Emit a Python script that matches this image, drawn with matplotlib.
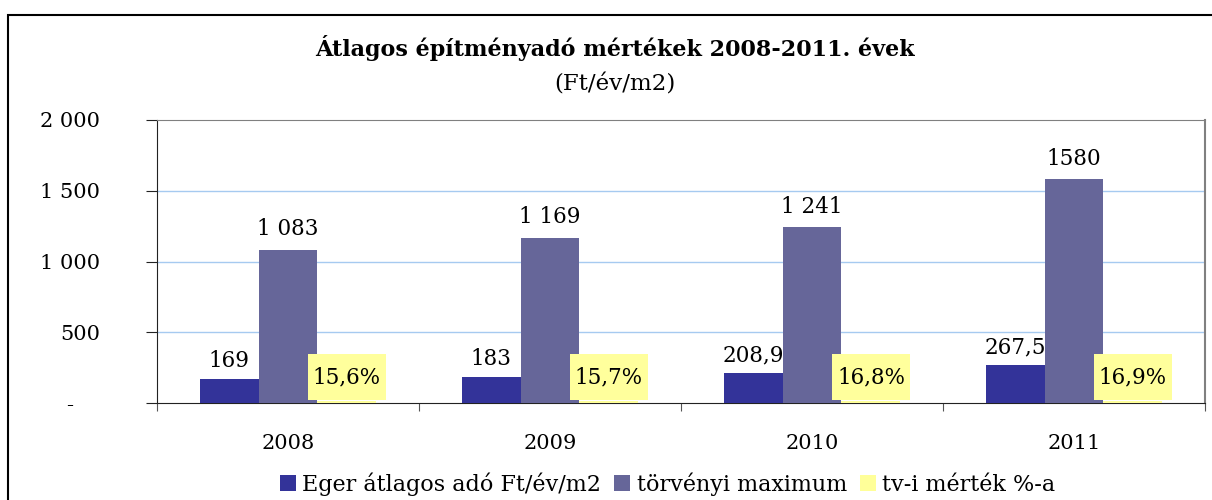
import matplotlib
matplotlib.use('Agg')
import matplotlib.pyplot as plt
import matplotlib.transforms as mtransforms
from matplotlib.patches import Rectangle
from matplotlib.path import Path
import numpy as np

plt.rcParams['font.family'] = ['DejaVu Serif']

# adatok
years = ['2008', '2009', '2010', '2011']
eger = [169, 183, 208.9, 267.5]
eger_labels = ['169', '183', '208,9', '267,5']
maximum = [1083, 1169, 1241, 1580]
maximum_labels = ['1 083', '1 169', '1 241', '1580']
arany = [15.6, 15.7, 16.8, 16.9]
arany_labels = ['15,6%', '15,7%', '16,8%', '16,9%']
yticks = [0, 500, 1000, 1500, 2000]
ytick_labels = ['-', '500', '1 000', '1 500', '2 000']
series_names = ['Eger átlagos adó Ft/év/m2', 'törvényi maximum', 'tv-i mérték %-a']

c_eger = '#333399'
c_max = '#666699'
c_arany = '#ffff99'


def wide_box(x0, y0, width, height, mutation_size):
    # Excel-szerű címkedoboz: vízszintesen kevés, függőlegesen több hely
    px = 0.25 * mutation_size
    py = 0.55 * mutation_size
    x0, y0 = x0 - px, y0 - py
    x1, y1 = x0 + width + 2 * px, y0 + height + 2 * py
    return Path([(x0, y0), (x1, y0), (x1, y1), (x0, y1), (x0, y0)], closed=True)


fig = plt.figure(figsize=(12.12, 5.0), dpi=100)
ax = fig.add_axes([157/1212, 97/500, 1048/1212, 283/500])

x = np.arange(len(years))
w = 0.225
b1 = ax.bar(x - w, eger, w, color=c_eger, label=series_names[0], zorder=3)
b2 = ax.bar(x, maximum, w, color=c_max, label=series_names[1], zorder=3)
b3 = ax.bar(x + w, arany, w, color=c_arany, label=series_names[2], zorder=3)

# címkék
for xi, v, t in zip(x - w, eger, eger_labels):
    ax.annotate(t, (xi, v), xytext=(0, 5), textcoords='offset points',
                ha='center', va='bottom', fontsize=15.5, zorder=5)
for xi, v, t in zip(x, maximum, maximum_labels):
    ax.annotate(t, (xi, v), xytext=(0, 7), textcoords='offset points',
                ha='center', va='bottom', fontsize=15.5, zorder=5)
for xi, v, t in zip(x + w, arany, arany_labels):
    ax.annotate(t, (xi, v), xytext=(0, 17), textcoords='offset points',
                ha='center', va='center', fontsize=15.5, zorder=5,
                bbox=dict(boxstyle=wide_box, fc='#ffff9c', ec='none'))

ax.set_xlim(-0.5, len(years) - 0.5)
ax.set_ylim(0, 2000)
ax.set_yticks(yticks)
ax.set_yticklabels(ytick_labels, fontsize=15)
ax.set_xticks(np.arange(len(years) + 1) - 0.5)
ax.set_xticklabels([])
ax.set_xticks(x, minor=True)
ax.set_xticklabels(years, minor=True, fontsize=15)
ax.tick_params(axis='x', which='minor', length=0, pad=22)
ax.tick_params(axis='x', which='major', length=6, direction='out', color='#555555')
ax.tick_params(axis='y', length=8, direction='out', pad=33, color='#222222')

# a "-" felirat kicsit balra
zero_lbl = ax.get_yticklabels()[0]
zero_lbl.set_transform(zero_lbl.get_transform() +
                       mtransforms.ScaledTranslation(-0.27, 0, fig.dpi_scale_trans))

for v in yticks[1:-1]:
    ax.axhline(v, color='#a6caf0', lw=1, zorder=1)
ax.spines['top'].set_color('#808080')
ax.spines['right'].set_color('#808080')
ax.spines['right'].set_linewidth(1.5)
ax.spines['left'].set_color('#222222')
ax.spines['bottom'].set_color('#222222')

fig.text(0.507, 0.904, 'Átlagos építményadó mértékek 2008-2011. évek',
         ha='center', va='center', fontsize=16, fontweight='bold')
fig.text(0.507, 0.83, '(Ft/év/m2)', ha='center', va='center', fontsize=16.5)

fig.legend(handles=[b1, b2, b3], loc='center', bbox_to_anchor=(0.551, 0.032),
           ncol=3, frameon=False, fontsize=16, handlelength=0.7, handleheight=0.7,
           handletextpad=0.3, columnspacing=0.6)

# külső keret
fig.patches.append(Rectangle((8/1212, -0.1), 1.2, 1.1 - 15/500,
                             transform=fig.transFigure, fill=False,
                             ec='black', lw=1.5))

fig.savefig('out.png', dpi=100)
